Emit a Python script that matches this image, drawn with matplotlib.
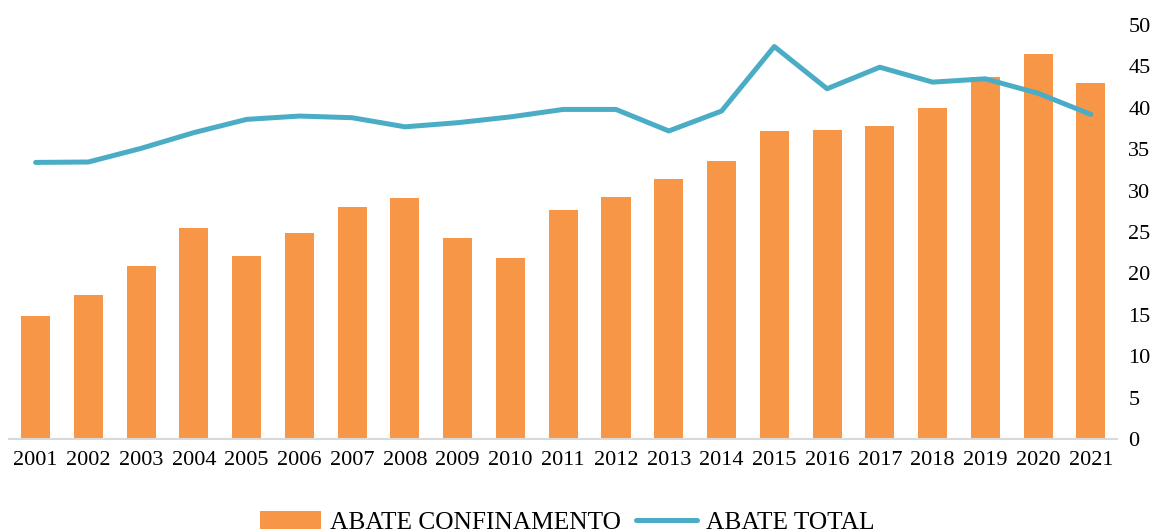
import matplotlib
matplotlib.use("Agg")
import matplotlib.pyplot as plt
import numpy as np

plt.rcParams['font.family'] = ['Liberation Serif', 'DejaVu Serif']

years = [str(y) for y in range(2001, 2022)]
abate_confinamento = [14.9, 17.4, 20.9, 25.5, 22.1, 24.9, 28.0, 29.1, 24.3, 21.9,
                      27.7, 29.2, 31.4, 33.6, 37.2, 37.3, 37.8, 40.0, 43.7, 46.5, 43.0]
abate_total = [33.4, 33.45, 35.1, 37.0, 38.6, 39.0, 38.8, 37.7, 38.2, 38.9,
               39.8, 39.8, 37.2, 39.6, 47.4, 42.3, 44.9, 43.1, 43.5, 41.75, 39.2]

ORANGE = '#F79646'
BLUE = '#4BACC6'

fig = plt.figure(figsize=(11.53, 5.32), dpi=100)
ax = fig.add_axes([0.008, 0.175, 0.961, 0.778])

x = np.arange(len(years))
bars = ax.bar(x, abate_confinamento, width=0.55, color=ORANGE,
              label='ABATE CONFINAMENTO', zorder=2)
line, = ax.plot(x, abate_total, color=BLUE, lw=3.6, solid_capstyle='round',
                solid_joinstyle='round', label='ABATE TOTAL', zorder=3)

ax.set_xlim(-0.5, len(years) - 0.5)
ax.set_ylim(0, 50)
ax.set_yticks(range(0, 51, 5))
ax.yaxis.tick_right()
ax.set_xticks(x)
ax.set_xticklabels(years)
ax.tick_params(axis='both', length=0, labelsize=16)
ax.tick_params(axis='x', pad=9)
ax.tick_params(axis='y', pad=8)

for side in ['top', 'left', 'right']:
    ax.spines[side].set_visible(False)
ax.spines['bottom'].set_color('#d9d9d9')
ax.spines['bottom'].set_linewidth(1.5)

fig.legend([bars, line], ['ABATE CONFINAMENTO', 'ABATE TOTAL'],
           loc='center', bbox_to_anchor=(0.492, 0.018), ncol=2, frameon=False,
           fontsize=18.3, handlelength=2.4, handletextpad=0.35, columnspacing=0.6,
           borderpad=0)

fig.savefig('out.png', dpi=100)
